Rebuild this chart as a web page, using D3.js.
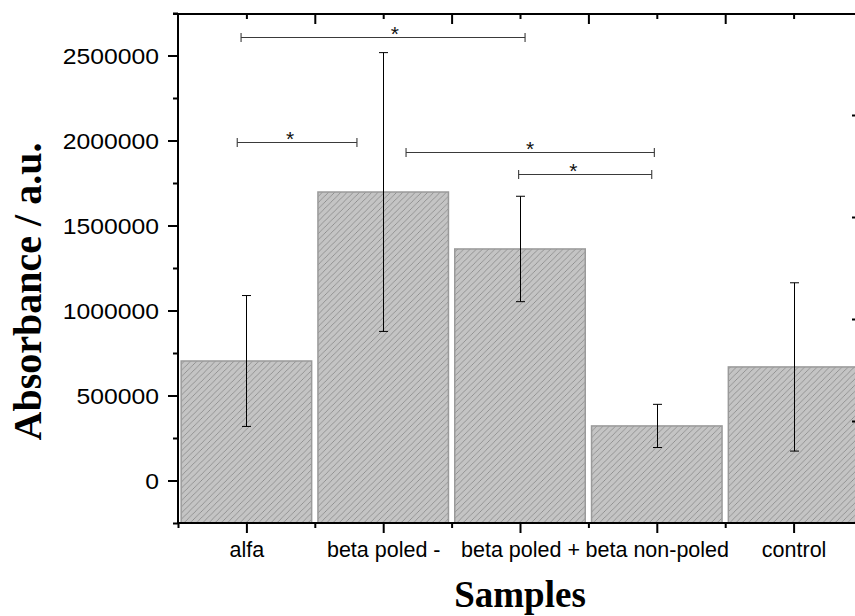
<!DOCTYPE html>
<html>
<head>
<meta charset="utf-8">
<script src="https://cdn.jsdelivr.net/npm/d3@7"></script>
<style>
  html, body { margin: 0; padding: 0; background: #fff; }
  svg { display: block; }
</style>
</head>
<body>
<svg id="chart" width="855" height="616"></svg>
<script>
// Sample groups and measured absorbance (mean ± error)
const categories = ["alfa", "beta poled -", "beta poled +", "beta non-poled", "control"];
const means = [703000, 1697000, 1362000, 321000, 668000];
const errors = [385000, 820000, 310000, 127000, 495000];

// Y axis ticks
const yMajorTicks = [0, 500000, 1000000, 1500000, 2000000, 2500000];
const yMinorTicks = [-250000, 250000, 750000, 1250000, 1750000, 2250000, 2750000];
const yRightTicks = [350000, 950000, 1550000, 2150000];

// Significance brackets (x in category units, level in absorbance units)
const sigFrom = [0.961, 0.933, 2.167, 2.990];
const sigTo = [3.037, 1.808, 3.982, 3.963];
const sigStarX = [2.086, 1.319, 3.073, 3.390];
const sigLevel = [2606000, 1993000, 1934000, 1805000];
const sigLabel = ["*", "*", "*", "*"];

const svg = d3.select("#chart");

const plotLeft = 178, plotRight = 862, plotTop = 13, plotBottom = 523;

const x = d3.scaleLinear().domain([0.5, categories.length + 0.5]).range([plotLeft, plotRight]);
const y = d3.scaleLinear().domain([-250000, 2750000]).range([plotBottom, plotTop]);

const barWidthUnits = 0.954;

// hatch pattern
const hs = 6.2;
const defs = svg.append("defs");
const pat = defs.append("pattern")
  .attr("id", "hatch")
  .attr("patternUnits", "userSpaceOnUse")
  .attr("width", hs).attr("height", hs);
pat.append("rect").attr("width", hs).attr("height", hs).attr("fill", "#c4c4c4");
pat.append("path")
  .attr("d", `M-1,1 l2,-2 M0,${hs} l${hs},-${hs} M${hs - 1},${hs + 1} l2,-2`)
  .attr("stroke", "#8a8a8a").attr("stroke-width", 0.85);

// bars
svg.append("g").selectAll("rect")
  .data(means)
  .join("rect")
  .attr("x", (d, i) => x(i + 1 - barWidthUnits / 2))
  .attr("width", x(1 + barWidthUnits / 2) - x(1 - barWidthUnits / 2))
  .attr("y", d => y(d))
  .attr("height", d => y.range()[0] - y(d))
  .attr("fill", "url(#hatch)")
  .attr("stroke", "#9a9a9a")
  .attr("stroke-width", 1.5);

// error bars
const eb = svg.append("g").attr("stroke", "#000").attr("stroke-width", 1);
means.forEach((m, i) => {
  const cx = Math.round(x(i + 1)) + 0.5;
  const y1 = y(m + errors[i]), y2 = y(m - errors[i]);
  eb.append("line").attr("x1", cx).attr("x2", cx).attr("y1", y1).attr("y2", y2);
  eb.append("line").attr("x1", cx - 4.5).attr("x2", cx + 4.5).attr("y1", y1).attr("y2", y1);
  eb.append("line").attr("x1", cx - 4.5).attr("x2", cx + 4.5).attr("y1", y2).attr("y2", y2);
});

// significance brackets
const sg = svg.append("g");
sigLevel.forEach((lv, i) => {
  const yy = Math.round(y(lv)) + 0.5;
  const x1 = x(sigFrom[i]), x2 = x(sigTo[i]);
  const g = sg.append("g").attr("stroke", "#3a3a3a").attr("stroke-width", 1.1);
  g.append("line").attr("x1", x1).attr("x2", x2).attr("y1", yy).attr("y2", yy);
  g.append("line").attr("x1", x1).attr("x2", x1).attr("y1", yy - 4.5).attr("y2", yy + 4.5);
  g.append("line").attr("x1", x2).attr("x2", x2).attr("y1", yy - 4.5).attr("y2", yy + 4.5);
  sg.append("text")
    .attr("x", x(sigStarX[i])).attr("y", yy + 3.3)
    .attr("text-anchor", "middle")
    .attr("font-family", "'Liberation Sans', Arial, sans-serif")
    .attr("font-size", 21)
    .attr("fill", "#111")
    .text(sigLabel[i]);
});

const axisFont = "'Liberation Sans', Arial, sans-serif";

function styleAxis(g) {
  g.select(".domain").remove();
  g.selectAll(".tick line").attr("stroke", "#000").attr("stroke-width", 2);
}

// left axis: major ticks with labels
const gLeft = svg.append("g").attr("transform", `translate(${plotLeft},0)`)
  .call(d3.axisLeft(y).tickValues(yMajorTicks).tickSize(10).tickPadding(9).tickFormat(d3.format("d")));
styleAxis(gLeft);
const sx = 1.15;
gLeft.selectAll(".tick text")
  .attr("font-family", axisFont).attr("font-size", 21.5).attr("fill", "#000")
  .attr("dy", null).attr("dominant-baseline", null)
  .attr("x", -19 / sx).attr("y", 7.7)
  .attr("transform", `scale(${sx},1)`);

// left axis minor ticks
const gLeftMinor = svg.append("g").attr("transform", `translate(${plotLeft},0)`)
  .call(d3.axisLeft(y).tickValues(yMinorTicks).tickSize(5).tickFormat(""));
styleAxis(gLeftMinor);

// right axis ticks (inward)
const gRight = svg.append("g").attr("transform", `translate(${plotRight},0)`)
  .call(d3.axisRight(y).tickValues(yRightTicks).tickSize(-10).tickFormat(""));
styleAxis(gRight);

// bottom axis: category labels at centers
const centers = categories.map((c, i) => i + 1);
const bounds = d3.range(0, categories.length + 1).map(i => i + 0.5);
const gBottom = svg.append("g").attr("transform", `translate(0,${plotBottom})`)
  .call(d3.axisBottom(x).tickValues(centers).tickSize(10).tickPadding(9).tickFormat(d => categories[d - 1]));
styleAxis(gBottom);
gBottom.selectAll(".tick text")
  .attr("font-family", axisFont).attr("font-size", 21.5).attr("fill", "#000");

const gBottomMinor = svg.append("g").attr("transform", `translate(0,${plotBottom})`)
  .call(d3.axisBottom(x).tickValues(bounds).tickSize(5).tickFormat(""));
styleAxis(gBottomMinor);

// top axis (inward ticks)
const gTop = svg.append("g").attr("transform", `translate(0,${plotTop + 1})`)
  .call(d3.axisTop(x).tickValues(bounds.slice(1, -1)).tickSize(-10).tickFormat(""));
styleAxis(gTop);
const gTopMinor = svg.append("g").attr("transform", `translate(0,${plotTop + 1})`)
  .call(d3.axisTop(x).tickValues(centers).tickSize(-5).tickFormat(""));
styleAxis(gTopMinor);

// frame lines
const frame = svg.append("g").attr("stroke", "#000").attr("stroke-width", 2).attr("fill", "none");
frame.append("line").attr("x1", plotLeft).attr("x2", plotLeft).attr("y1", plotTop).attr("y2", plotBottom + 1);
frame.append("line").attr("x1", plotLeft - 5).attr("x2", plotRight).attr("y1", plotTop + 1).attr("y2", plotTop + 1);
frame.append("line").attr("x1", plotLeft - 1).attr("x2", plotRight).attr("y1", plotBottom).attr("y2", plotBottom);
frame.append("line").attr("x1", plotRight).attr("x2", plotRight).attr("y1", plotTop).attr("y2", plotBottom);

// axis titles
svg.append("text")
  .attr("x", (plotLeft + plotRight) / 2).attr("y", 606.5)
  .attr("text-anchor", "middle")
  .attr("font-family", "'Liberation Serif', 'Times New Roman', serif")
  .attr("font-weight", "bold").attr("font-size", 37)
  .text("Samples");

svg.append("text")
  .attr("transform", "translate(41,291.5) rotate(-90)")
  .attr("text-anchor", "middle")
  .attr("font-family", "'Liberation Serif', 'Times New Roman', serif")
  .attr("font-weight", "bold").attr("font-size", 40)
  .text("Absorbance / a.u.");
</script>
</body>
</html>
